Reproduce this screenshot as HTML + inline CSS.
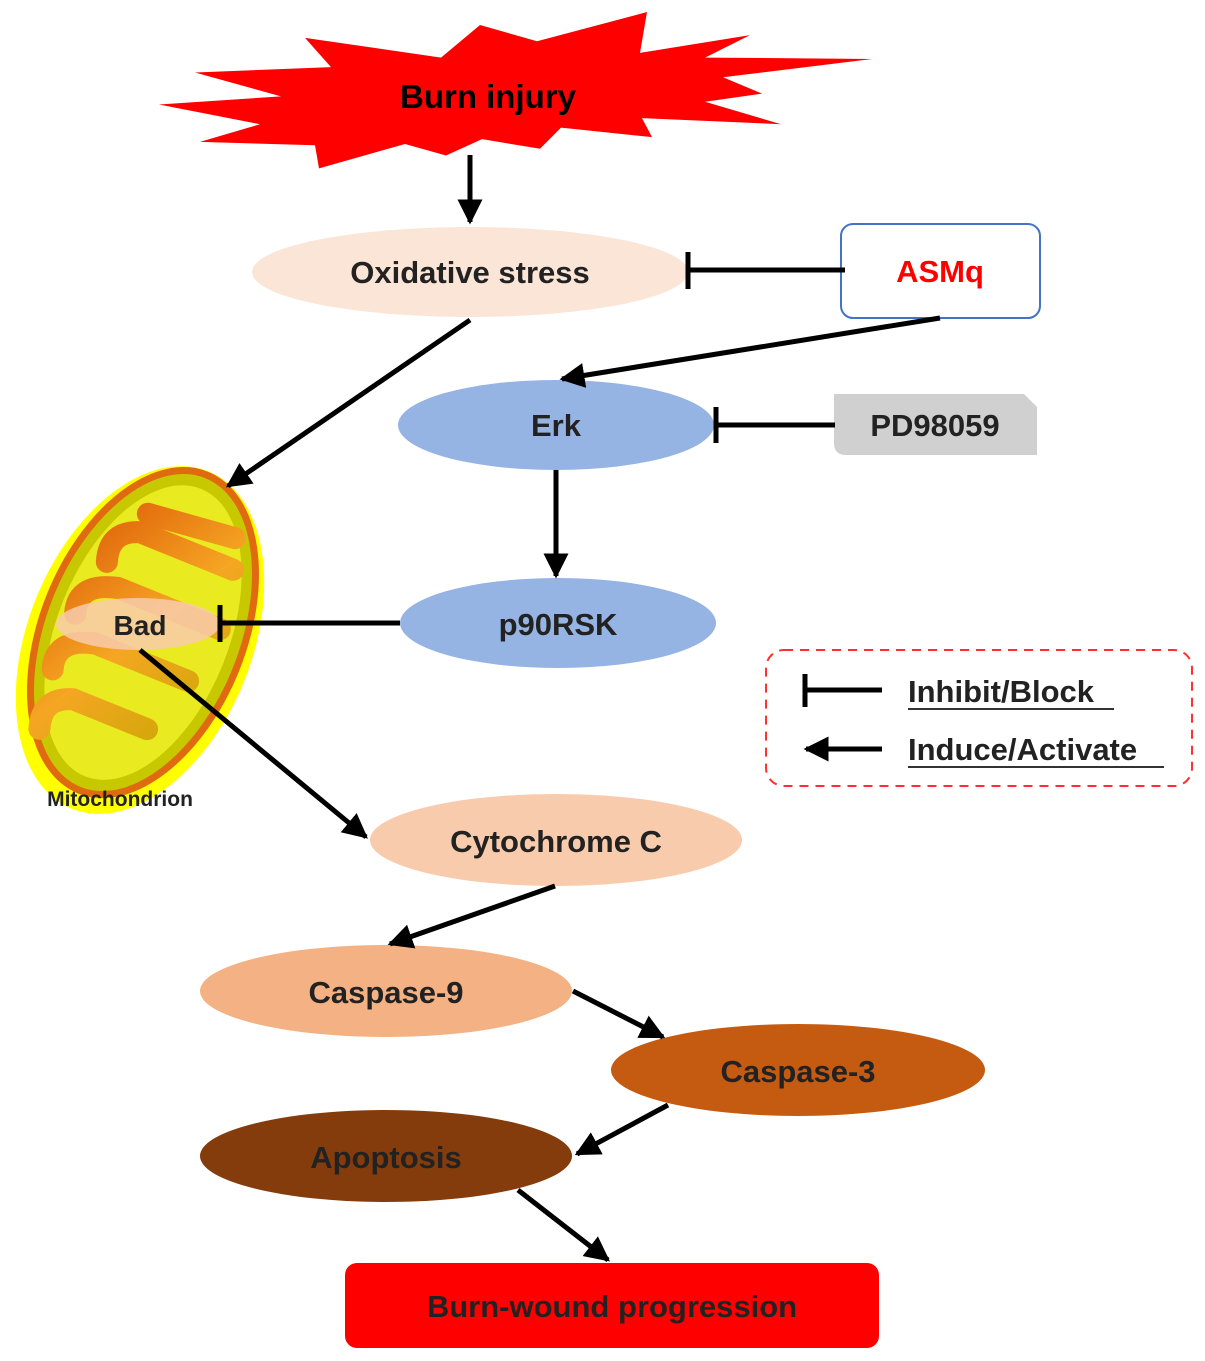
<!DOCTYPE html>
<html><head><meta charset="utf-8"><style>
body{margin:0;background:#fff}
svg{display:block}
text{font-family:"Liberation Sans",sans-serif;font-weight:bold}
</style></head><body>
<svg width="1205" height="1361" viewBox="0 0 1205 1361" xmlns="http://www.w3.org/2000/svg">
<defs>
<marker id="a" viewBox="0 0 10 10" refX="9" refY="5" markerWidth="5" markerHeight="5" orient="auto"><path d="M0,0 L10,5 L0,10 z" fill="#000"/></marker>
<linearGradient id="fold" x1="0" y1="0" x2="1" y2="1"><stop offset="0" stop-color="#e0620a"/><stop offset="0.5" stop-color="#f5a623"/><stop offset="1" stop-color="#c9a800"/></linearGradient>
</defs>
<!-- star -->
<g transform="translate(0,-0.9) scale(1,0.68)">
<polygon fill="#ff0000" points="159,155 281,143 195,108 331,100 305,57 441,86 480,38 537,62 647,19 640,79 750,53 705,86 872,88 723,115 762,139 705,151 781,184 642,175 652,203 561,189 540,220 482,206 446,230 405,213 319,249 315,215 200,210 260,184"/>
</g>
<text x="488" y="108" font-size="33" text-anchor="middle">Burn injury</text>
<g stroke="#000" stroke-width="5" fill="none">
<line x1="470" y1="155" x2="470" y2="222" marker-end="url(#a)"/>
</g>
<!-- oxidative -->
<ellipse cx="470" cy="272" rx="218" ry="45" fill="#fbe5d6"/>
<text x="470" y="283" font-size="31" text-anchor="middle" fill="#222">Oxidative stress</text>
<rect x="841" y="224" width="199" height="94" rx="12" fill="#fff" stroke="#4472c4" stroke-width="2"/>
<text x="940" y="282" font-size="31" text-anchor="middle" fill="#ff0000">ASMq</text>
<!-- mitochondrion -->
<g transform="translate(140,640) rotate(22)">
<ellipse cx="0" cy="0" rx="112" ry="182" fill="#ffff00"/>
<ellipse cx="0" cy="-8" rx="100" ry="170" fill="#c8c800" stroke="#e06a10" stroke-width="7"/>
<ellipse cx="0" cy="-8" rx="86" ry="155" fill="#eaea20"/>
<path d="M-60,120 Q-70,90 -40,80 L40,80 M-70,60 Q-80,30 -40,20 L60,20 M-70,0 Q-80,-30 -40,-40 L70,-40 M-60,-60 Q-70,-90 -40,-100 L60,-100 M-40,-120 L50,-130" stroke="url(#fold)" stroke-width="22" fill="none" stroke-linecap="round"/>
</g>
<ellipse cx="138" cy="624" rx="82" ry="26" fill="#f8cbad" opacity="0.85"/>
<text x="140" y="635" font-size="28" text-anchor="middle" fill="#222">Bad</text>
<text x="120" y="806" font-size="21" text-anchor="middle" fill="#222">Mitochondrion</text>
<!-- erk / p90 -->
<ellipse cx="556" cy="425" rx="158" ry="45" fill="#95b3e3"/>
<text x="556" y="436" font-size="31" text-anchor="middle" fill="#222">Erk</text>
<path d="M834,394 H1024 L1037,407 V455 H846 Q834,455 834,443 Z" fill="#d0d0d0"/>
<text x="935" y="436" font-size="31" text-anchor="middle" fill="#222">PD98059</text>
<ellipse cx="558" cy="623" rx="158" ry="45" fill="#95b3e3"/>
<text x="558" y="635" font-size="31" text-anchor="middle" fill="#222">p90RSK</text>
<!-- legend -->
<rect x="766" y="650" width="426" height="136" rx="18" fill="none" stroke="#ff3030" stroke-width="2" stroke-dasharray="9,7"/>
<text x="908" y="702" font-size="31" fill="#222">Inhibit/Block</text>
<line x1="908" y1="709" x2="1114" y2="709" stroke="#333" stroke-width="2"/>
<text x="908" y="760" font-size="31" fill="#222">Induce/Activate</text>
<line x1="908" y1="767" x2="1164" y2="767" stroke="#333" stroke-width="2"/>
<!-- lower nodes -->
<ellipse cx="556" cy="840" rx="186" ry="46" fill="#f8cbad"/>
<text x="556" y="852" font-size="31" text-anchor="middle" fill="#222">Cytochrome C</text>
<ellipse cx="386" cy="991" rx="186" ry="46" fill="#f4b183"/>
<text x="386" y="1003" font-size="31" text-anchor="middle" fill="#222">Caspase-9</text>
<ellipse cx="798" cy="1070" rx="187" ry="46" fill="#c55a11"/>
<text x="798" y="1082" font-size="31" text-anchor="middle" fill="#222">Caspase-3</text>
<ellipse cx="386" cy="1156" rx="186" ry="46" fill="#843c0c"/>
<text x="386" y="1168" font-size="31" text-anchor="middle" fill="#222">Apoptosis</text>
<rect x="345" y="1263" width="534" height="85" rx="12" fill="#ff0000"/>
<text x="612" y="1317" font-size="31" text-anchor="middle" fill="#222">Burn-wound progression</text>
<!-- connectors -->
<g stroke="#000" stroke-width="5" fill="none">
<line x1="470" y1="320" x2="228" y2="486" marker-end="url(#a)"/>
<line x1="940" y1="318" x2="562" y2="379" marker-end="url(#a)"/>
<line x1="845" y1="270" x2="688" y2="270"/>
<line x1="688" y1="252" x2="688" y2="289"/>
<line x1="835" y1="425" x2="716" y2="425"/>
<line x1="716" y1="407" x2="716" y2="443"/>
<line x1="556" y1="470" x2="556" y2="576" marker-end="url(#a)"/>
<line x1="400" y1="623" x2="220" y2="623"/>
<line x1="220" y1="605" x2="220" y2="642"/>
<line x1="140" y1="650" x2="366" y2="837" marker-end="url(#a)"/>
<line x1="555" y1="886" x2="390" y2="944" marker-end="url(#a)"/>
<line x1="573" y1="991" x2="663" y2="1037" marker-end="url(#a)"/>
<line x1="668" y1="1105" x2="577" y2="1154" marker-end="url(#a)"/>
<line x1="518" y1="1190" x2="608" y2="1260" marker-end="url(#a)"/>
<line x1="882" y1="690" x2="805" y2="690"/>
<line x1="805" y1="674" x2="805" y2="707"/>
<line x1="882" y1="749" x2="806" y2="749" marker-end="url(#a)"/>
</g>
</svg>
</body></html>
